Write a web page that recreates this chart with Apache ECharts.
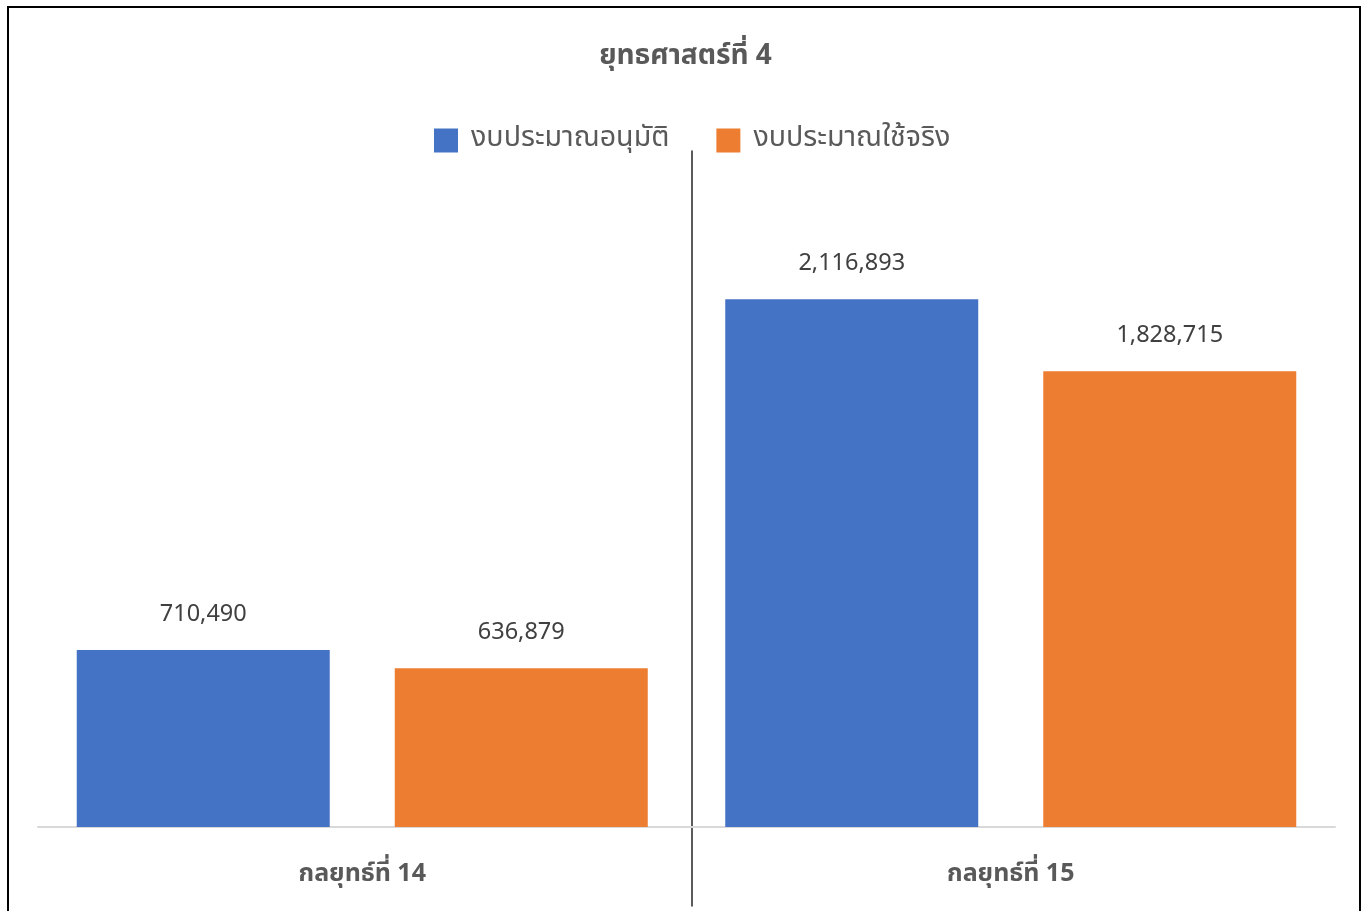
<!DOCTYPE html>
<html><head><meta charset="utf-8">
<script src="https://cdn.jsdelivr.net/npm/echarts@6/dist/echarts.min.js"></script>
<style>
html,body{margin:0;padding:0;background:#fff;}
#c{position:absolute;left:0;top:0;width:1371px;height:911px;}
#b{position:absolute;left:7px;top:6px;width:1354px;height:940px;border:2px solid #000;pointer-events:none;box-sizing:border-box;}
</style></head>
<body>
<div id="c"></div><div id="b"></div>
<script>
const title = 'ยุทธศาสตร์ที่ 4';
const categories = ['กลยุทธ์ที่ 14', 'กลยุทธ์ที่ 15'];
const seriesNames = ['งบประมาณอนุมัติ', 'งบประมาณใช้จริง'];
const approved = [710490, 2116893];
const actual = [636879, 1828715];
const colors = ['#4472C4', '#ED7D31'];
const font = '"Noto Sans Thai", "Leelawadee UI", "Tahoma", "Noto Sans", sans-serif';

const chart = echarts.init(document.getElementById('c'));
const lbl = {
  show: true, position: 'top', distance: 22,
  color: '#404040', fontSize: 23.5, fontFamily: font,
  formatter: p => p.value.toLocaleString('en-US')
};
chart.setOption({
  animation: false,
  title: { text: title, left: 'center', top: 39,
    textStyle: { color: '#595959', fontSize: 28, fontWeight: 'bold', fontFamily: font } },
  legend: { top: 121, left: 429, itemWidth: 24, itemHeight: 24, itemGap: 47,
    icon: 'rect',
    textStyle: { color: '#595959', fontSize: 28.6, fontFamily: font, padding: [0, 0, 0, 8] } },
  grid: { left: 38, right: 36, top: 151, bottom: 5, containLabel: false, outerBoundsMode: 'none' },
  xAxis: {
    type: 'category', data: categories,
    axisLine: { onZero: true, lineStyle: { color: '#D9D9D9', width: 2 } },
    axisTick: { show: false },
    splitLine: { show: false },
    axisLabel: { color: '#595959', fontSize: 25, fontWeight: 'bold', fontFamily: font, margin: -43 }
  },
  yAxis: {
    type: 'value', min: -317000, max: 2712000, position: 'left', offset: -654,
    axisLine: { show: true, lineStyle: { color: '#262626', width: 1.5 } },
    axisTick: { show: false }, axisLabel: { show: false }, splitLine: { show: false }
  },
  series: [
    { name: seriesNames[0], type: 'bar', data: approved, barWidth: 253, barGap: '25.7%',
      itemStyle: { color: colors[0] }, label: lbl },
    { name: seriesNames[1], type: 'bar', data: actual, barWidth: 253, barGap: '25.7%',
      itemStyle: { color: colors[1] }, label: lbl }
  ]
});
</script>
</body></html>
